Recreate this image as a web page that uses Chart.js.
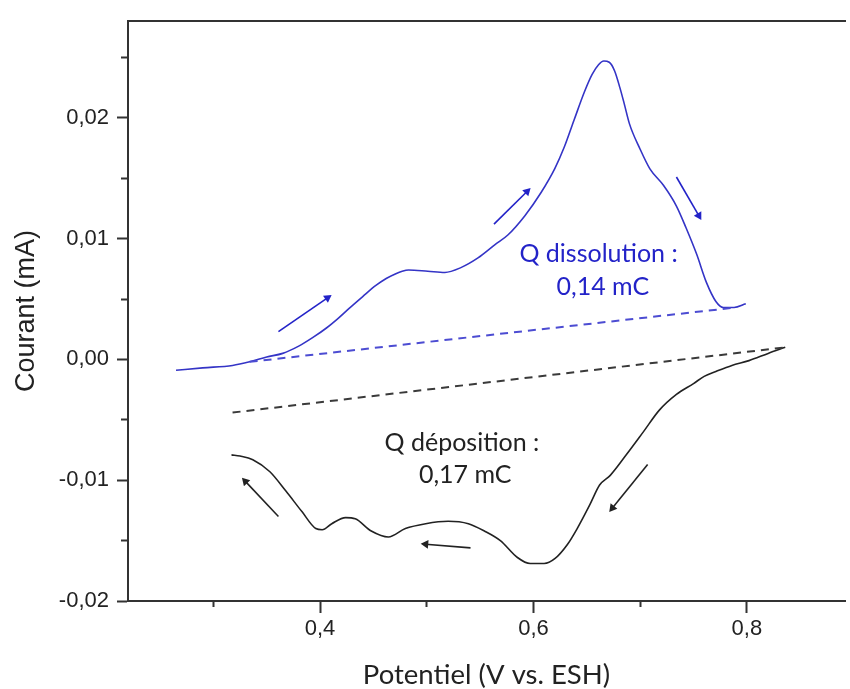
<!DOCTYPE html>
<html>
<head>
<meta charset="utf-8">
<script src="https://cdn.jsdelivr.net/npm/chart.js@4/dist/chart.umd.min.js"></script>
<style>
  html, body { margin: 0; padding: 0; background: #fff; }
  #wrap { width: 850px; height: 689px; }
</style>
</head>
<body>
<div id="wrap"><canvas id="cv"></canvas></div>
<script>
// Balayage aller (dissolution) - bleu
const blueX = [0.265, 0.290, 0.318, 0.334, 0.350, 0.365, 0.380, 0.393, 0.406, 0.417, 0.427, 0.440, 0.452, 0.462, 0.471, 0.477, 0.483, 0.501, 0.517, 0.532, 0.548, 0.564, 0.576, 0.592, 0.607, 0.620, 0.629, 0.638, 0.648, 0.655, 0.661, 0.666, 0.671, 0.676, 0.681, 0.685, 0.690, 0.700, 0.709, 0.722, 0.734, 0.743, 0.753, 0.762, 0.771, 0.778, 0.788, 0.799];
const blueY = [-0.0009, -0.0007, -0.0005, -0.0002, 0.0002, 0.0005, 0.0011, 0.0018, 0.0026, 0.0034, 0.0042, 0.0052, 0.0061, 0.0067, 0.0071, 0.0073, 0.0074, 0.0073, 0.0072, 0.0076, 0.0084, 0.0095, 0.0103, 0.0119, 0.0138, 0.0158, 0.0176, 0.0198, 0.0222, 0.0236, 0.0244, 0.0247, 0.0246, 0.0239, 0.0225, 0.0212, 0.0195, 0.0174, 0.0158, 0.0144, 0.0127, 0.0109, 0.0087, 0.0064, 0.0048, 0.0043, 0.0043, 0.0046];

// Balayage retour (déposition) - noir
const blackX = [0.836, 0.820, 0.802, 0.786, 0.771, 0.760, 0.750, 0.734, 0.718, 0.703, 0.687, 0.672, 0.662, 0.653, 0.641, 0.632, 0.620, 0.610, 0.597, 0.585, 0.569, 0.554, 0.539, 0.520, 0.499, 0.480, 0.464, 0.448, 0.433, 0.424, 0.411, 0.402, 0.396, 0.383, 0.368, 0.353, 0.337, 0.325, 0.317];
const blackY = [0.0010, 0.0005, -0.0001, -0.0005, -0.0010, -0.0014, -0.0020, -0.0029, -0.0042, -0.0060, -0.0079, -0.0096, -0.0104, -0.0120, -0.0140, -0.0153, -0.0165, -0.0169, -0.0169, -0.0164, -0.0150, -0.0142, -0.0136, -0.0134, -0.0136, -0.0140, -0.0147, -0.0142, -0.0132, -0.0131, -0.0136, -0.0141, -0.0140, -0.0126, -0.0109, -0.0093, -0.0083, -0.0080, -0.0079];

// Lignes de base (intégration de la charge)
const blueBaseX = [0.334, 0.790];
const blueBaseY = [-0.0002, 0.0043];
const blackBaseX = [0.318, 0.836];
const blackBaseY = [-0.0044, 0.0010];

// Flèches : [x départ, y départ, x pointe, y pointe]
const blueArrows = [[0.361, 0.0023, 0.407, 0.0051], [0.563, 0.0112, 0.594, 0.0139], [0.734, 0.0151, 0.755, 0.0119]];
const blackArrows = [[0.361, -0.0130, 0.330, -0.0101], [0.541, -0.0156, 0.499, -0.0153], [0.707, -0.0087, 0.674, -0.0123]];

// Axes
const xTickValues = [0.4, 0.6, 0.8];
const xTickLabels = ['0,4', '0,6', '0,8'];
const xMinorTicks = [0.3, 0.5, 0.7];
const yTickValues = [-0.02, -0.01, 0, 0.01, 0.02];
const yTickLabels = ['-0,02', '-0,01', '0,00', '0,01', '0,02'];
const yMinorTicks = [-0.015, -0.005, 0.005, 0.015, 0.025];

// Annotations
const noteTexts = ['Q dissolution :', '0,14 mC', 'Q déposition :', '0,17 mC'];
const noteX = [0.661, 0.665, 0.533, 0.536];
const noteY = [0.0087, 0.0060, -0.0069, -0.0096];

const BLUE = '#3434c6';
const BLUE_TXT = '#2323c8';
const BLACK = '#222222';
const AXIS = '#333333';
const X_MIN = 0.22, X_MAX = 0.892, Y_MIN = -0.02, Y_MAX = 0.028;
const ARIAL = "Arial, 'Liberation Sans', sans-serif";

const toPoints = (xs, ys) => xs.map((x, i) => ({ x, y: ys[i] }));

function headAngle(ctx) {
    const d = ctx.dataset.data;
    const sx = ctx.chart.scales.x, sy = ctx.chart.scales.y;
    const dx = sx.getPixelForValue(d[1].x) - sx.getPixelForValue(d[0].x);
    const dy = sy.getPixelForValue(d[1].y) - sy.getPixelForValue(d[0].y);
    return Math.atan2(dy, dx) * 180 / Math.PI + 90;
}

const arrowSet = (a, color) => ({
    data: [{ x: a[0], y: a[1] }, { x: a[2], y: a[3] }],
    showLine: true,
    borderColor: color,
    backgroundColor: color,
    borderWidth: 1.6,
    pointStyle: 'triangle',
    pointRadius: ctx => ctx.dataIndex === 1 ? 5 : 0,
    pointBorderWidth: 0,
    pointRotation: headAngle
});

const datasets = [
    { data: toPoints(blueBaseX, blueBaseY), showLine: true, borderColor: '#4c4cd2', borderWidth: 2, borderDash: [8, 6], pointRadius: 0 },
    { data: toPoints(blackBaseX, blackBaseY), showLine: true, borderColor: '#3a3a3a', borderWidth: 2, borderDash: [8, 6], pointRadius: 0 },
    { data: toPoints(blueX, blueY), showLine: true, borderColor: BLUE, borderWidth: 1.6, cubicInterpolationMode: 'monotone', pointRadius: 0 },
    { data: toPoints(blackX, blackY), showLine: true, borderColor: BLACK, borderWidth: 1.6, cubicInterpolationMode: 'monotone', pointRadius: 0 },
    ...blueArrows.map(a => arrowSet(a, BLUE_TXT)),
    ...blackArrows.map(a => arrowSet(a, BLACK))
];

// Textes placés en coordonnées de données
const notesPlugin = {
    id: 'notes',
    afterDatasetsDraw(chart) {
        const { ctx, scales } = chart;
        ctx.save();
        ctx.font = '25px Lato';
        ctx.textAlign = 'center';
        ctx.textBaseline = 'middle';
        noteTexts.forEach((t, i) => {
            ctx.fillStyle = i < 2 ? BLUE_TXT : BLACK;
            ctx.fillText(t, scales.x.getPixelForValue(noteX[i]), scales.y.getPixelForValue(noteY[i]));
        });
        ctx.restore();
    }
};

const fixTicks = values => scale => { scale.ticks = values.map(v => ({ value: v })); };
const tickFont = { family: ARIAL, size: 22 };

new Chart(document.getElementById('cv'), {
    type: 'scatter',
    data: { datasets },
    options: {
        responsive: true,
        maintainAspectRatio: false,
        animation: false,
        layout: { padding: { top: 13, left: 0, right: 0, bottom: 0 } },
        plugins: { legend: { display: false }, tooltip: { enabled: false } },
        scales: {
            x: {
                type: 'linear', position: 'bottom', min: X_MIN, max: X_MAX, weight: 1,
                afterBuildTicks: fixTicks(xTickValues),
                afterFit: s => { s.height = 88; },
                grid: { display: true, drawOnChartArea: false, drawTicks: true, tickLength: 12, tickWidth: 2, tickColor: AXIS },
                border: { display: true, color: AXIS, width: 2 },
                ticks: { font: tickFont, color: BLACK, padding: 3, maxRotation: 0, callback: (v, i) => xTickLabels[i] },
                title: { display: true, text: 'Potentiel (V vs. ESH)', color: BLACK, font: { family: 'Lato', size: 27.5, lineHeight: 1 }, padding: { top: 0, bottom: 0 } }
            },
            xMinor: {
                type: 'linear', position: 'bottom', min: X_MIN, max: X_MAX, weight: 0,
                afterBuildTicks: fixTicks(xMinorTicks),
                afterFit: s => { s.height = 0; },
                grid: { display: true, drawOnChartArea: false, drawTicks: true, tickLength: 6, tickWidth: 2, tickColor: AXIS },
                border: { display: false },
                ticks: { display: false }
            },
            xTop: {
                type: 'linear', position: 'top', min: 0, max: 1,
                afterFit: s => { s.height = 0; },
                grid: { display: false },
                border: { display: true, color: AXIS, width: 2 },
                ticks: { display: false }
            },
            y: {
                type: 'linear', position: 'left', min: Y_MIN, max: Y_MAX, weight: 1,
                afterBuildTicks: fixTicks(yTickValues),
                afterFit: s => { s.width = 128; },
                grid: { display: true, drawOnChartArea: false, drawTicks: true, tickLength: 11, tickWidth: 2, tickColor: AXIS },
                border: { display: true, color: AXIS, width: 2 },
                ticks: { font: tickFont, color: BLACK, padding: 8, callback: (v, i) => yTickLabels[i] },
                title: { display: true, text: 'Courant (mA)', color: BLACK, font: { family: ARIAL, size: 27, lineHeight: 1 }, padding: { top: 13, bottom: 0 } }
            },
            yMinor: {
                type: 'linear', position: 'left', min: Y_MIN, max: Y_MAX, weight: 0,
                afterBuildTicks: fixTicks(yMinorTicks),
                afterFit: s => { s.width = 0; },
                grid: { display: true, drawOnChartArea: false, drawTicks: true, tickLength: 7, tickWidth: 2, tickColor: AXIS },
                border: { display: false },
                ticks: { display: false }
            }
        }
    },
    plugins: [notesPlugin]
});
</script>
</body>
</html>
